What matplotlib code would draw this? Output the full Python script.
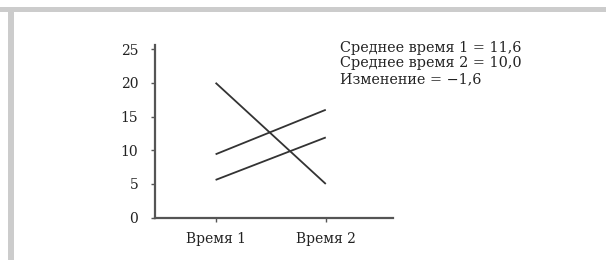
import matplotlib
matplotlib.use('Agg')
import matplotlib.pyplot as plt
from matplotlib.patches import Rectangle

# data
categories = ['Время 1', 'Время 2']
series_a = [20, 5]
series_b = [9.4, 16]
series_c = [5.6, 11.9]
yticks = [0, 5, 10, 15, 20, 25]
notes = ['Среднее время 1 = 11,6', 'Среднее время 2 = 10,0', 'Изменение = \u22121,6']

plt.rcParams['font.family'] = ['DejaVu Serif']

fig = plt.figure(figsize=(6.06, 2.6), dpi=100)

# grey frame at top and left
fig.patches.append(Rectangle((0, 1 - 12 / 260), 1, 5 / 260, transform=fig.transFigure,
                             facecolor='#cccccc', edgecolor='none'))
fig.patches.append(Rectangle((8 / 606, 0), 6 / 606, 1 - 7 / 260, transform=fig.transFigure,
                             facecolor='#cccccc', edgecolor='none'))

ax = fig.add_axes([155 / 606, 1 - 217.7 / 260, (393 - 155) / 606, (217.7 - 45) / 260])

x = range(len(categories))
for s in (series_a, series_b, series_c):
    ax.plot(x, s, color='#333333', lw=1.3, solid_capstyle='butt')

ax.set_xlim(-0.55, 1.61)
ax.set_ylim(0, 25.6)
ax.set_xticks(list(x))
ax.set_xticklabels(categories)
ax.set_yticks(yticks)

for side in ('top', 'right'):
    ax.spines[side].set_visible(False)
for side in ('left', 'bottom'):
    ax.spines[side].set_color('#555555')
    ax.spines[side].set_linewidth(1.6)

ax.tick_params(axis='both', colors='#555555', length=3, width=1, labelsize=10,
               labelcolor='#222222')
ax.tick_params(axis='y', pad=9)
ax.tick_params(axis='x', pad=7)

for i, t in enumerate(notes):
    fig.text(340 / 606, 1 - (48 + 15.5 * i) / 260, t, fontsize=10.4, color='#222222',
             va='center', ha='left')

fig.savefig('out.png', dpi=100, facecolor='white')
